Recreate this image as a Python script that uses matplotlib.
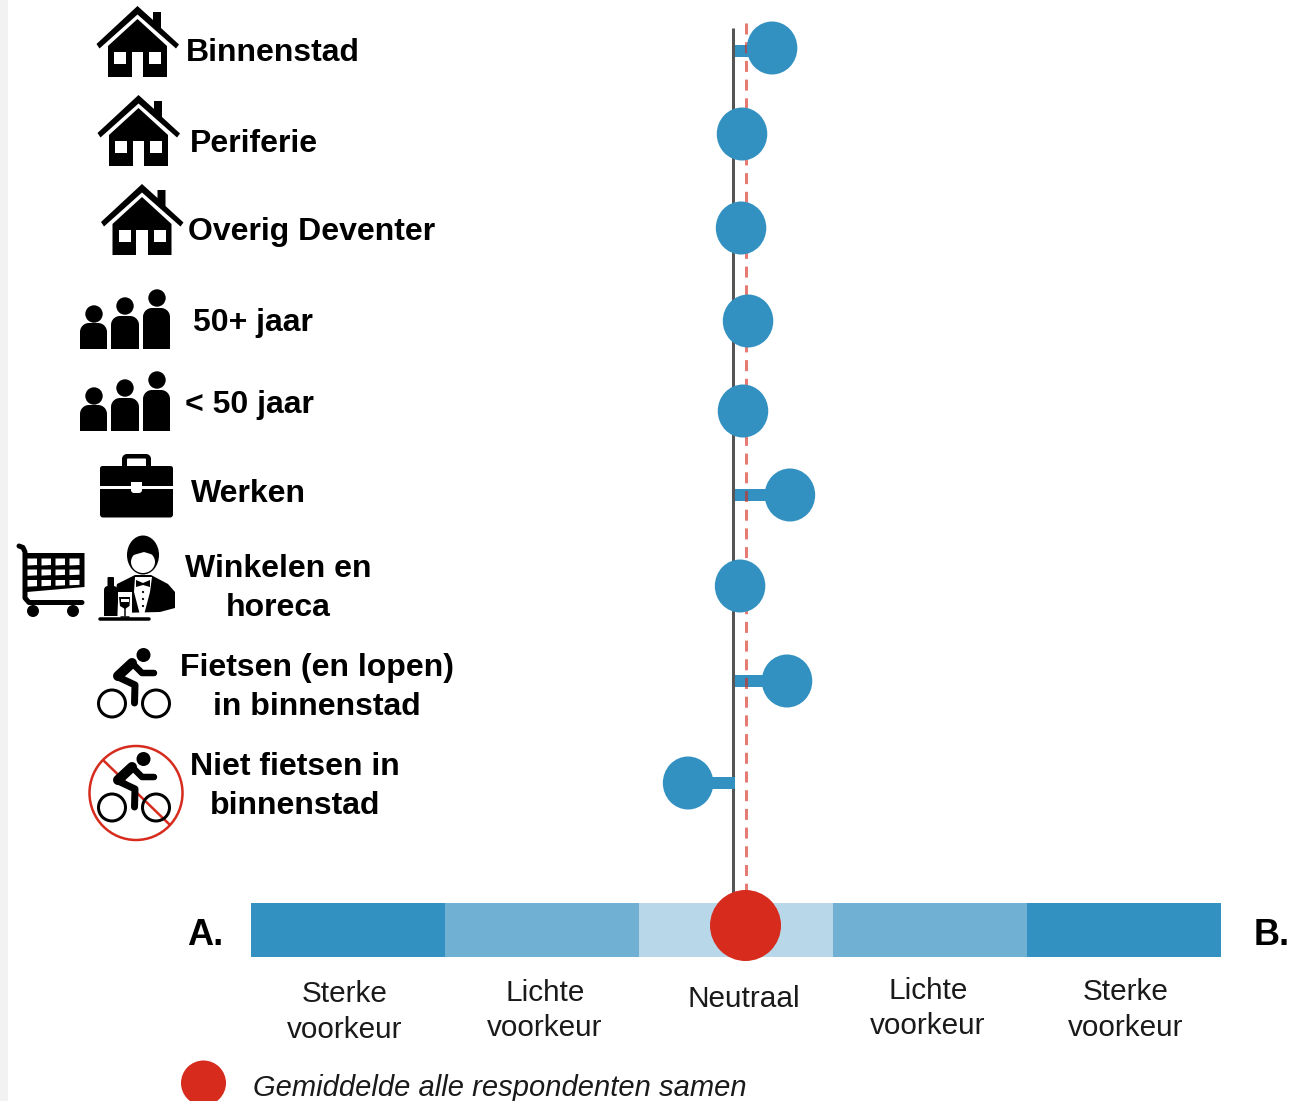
import numpy as np
import matplotlib
matplotlib.use("Agg")
import matplotlib.pyplot as plt
from matplotlib.patches import Ellipse, Circle, Polygon, Rectangle

W, H = 1312, 1101
BLUE, MID, LIGHT, RED = "#3391c1", "#70b1d3", "#b8d8ea", "#d62b1d"

# --- data -----------------------------------------------------------------
groups = ["Binnenstad", "Periferie", "Overig Deventer", "50+ jaar", "< 50 jaar",
          "Werken", "Winkelen en\nhoreca", "Fietsen (en lopen)\nin binnenstad",
          "Niet fietsen in\nbinnenstad"]
# preference score, -2.5 (strong A) ... 2.5 (strong B)
scores = [0.186, 0.031, 0.026, 0.062, 0.036, 0.278, 0.021, 0.263, -0.247]
overall_mean = 0.049
axis_line = -0.015
scale_edges = [-2.5, -1.5, -0.5, 0.5, 1.5, 2.5]
scale_labels = ["Sterke\nvoorkeur", "Lichte\nvoorkeur", "Neutraal", "Lichte\nvoorkeur", "Sterke\nvoorkeur"]
legend_label = "Gemiddelde alle respondenten samen"

# --- layout (pixels) ------------------------------------------------------
row_y = [48, 134, 228, 321, 411, 495, 586, 681, 783]
stem_y = [51, 134, 228, 321, 411, 495, 586, 681, 783]
PX = 194.0           # pixels per score unit
X0 = 736.0           # pixel position of score 0

fig = plt.figure(figsize=(W / 100, H / 100), dpi=100, facecolor="white")
ax = fig.add_axes([0, 0, 1, 1])
ax.set_xlim(-X0 / PX, (W - X0) / PX)
ax.set_ylim(H, 0)
ax.axis("off")
ic = fig.add_axes([0, 0, 1, 1])
ic.set_xlim(0, W)
ic.set_ylim(H, 0)
ic.axis("off")
ic.patch.set_alpha(0)
plt.rcParams["font.family"] = ["Liberation Sans", "DejaVu Sans"]

px = 0.72  # points per pixel

ic.add_patch(Rectangle((0, 0), 8, H, fc="#f2f2f2", ec="none"))

# scale bar
shades = [BLUE, MID, LIGHT, MID, BLUE]
for a, b, c in zip(scale_edges[:-1], scale_edges[1:], shades):
    ax.barh(930, b - a, left=a, height=54, color=c, lw=0, zorder=1)

# reference lines
ax.plot([axis_line, axis_line], [28, 895], color="#555555", lw=3 * px, zorder=2, solid_capstyle="butt")
# stems
for y, s in zip(stem_y, scores):
    ax.barh(y, s - axis_line, left=axis_line + 0.01, height=12, color=BLUE, lw=0, zorder=3)
ax.plot([overall_mean, overall_mean], [23, 895], color=RED, alpha=0.62, lw=3 * px, zorder=4,
        linestyle=(0, (11 / 3, 7.7 / 3)), dash_capstyle="butt")
# points
for y, s in zip(row_y, scores):
    ax.add_patch(Ellipse((s, y), 50.5 / PX, 53, fc=BLUE, ec="none", zorder=5))
ax.add_patch(Ellipse((overall_mean, 925.5), 71 / PX, 71, fc=RED, ec="none", zorder=6))
ax.add_patch(Ellipse((-X0 / PX + 203.5 / PX, 1083), 45 / PX, 45, fc=RED, ec="none", zorder=6))


# --- icons ----------------------------------------------------------------
def rrect(x0, y0, x1, y1, rt=0, rb=0, color="black", z=3):
    pts = []
    for cx, cy, r, a0 in [(x0 + rt, y0 + rt, rt, 180), (x1 - rt, y0 + rt, rt, 270),
                          (x1 - rb, y1 - rb, rb, 0), (x0 + rb, y1 - rb, rb, 90)]:
        t = np.radians(np.linspace(a0, a0 + 90, 12))
        pts += list(zip(cx + r * np.cos(t), cy + r * np.sin(t)))
    ic.add_patch(Polygon(pts, closed=True, fc=color, ec="none", zorder=z))


def poly(pts, color="black", z=3):
    ic.add_patch(Polygon(pts, closed=True, fc=color, ec="none", zorder=z))


def line(xs, ys, w, color="black", z=3, cap="round"):
    ic.plot(xs, ys, color=color, lw=w * px, zorder=z, solid_capstyle=cap, solid_joinstyle="round")


def house(dx, dy):
    def P(l):
        return [(x + dx, y + dy) for x, y in l]
    poly(P([(96.5, 44), (137.5, 6), (153, 20), (153, 12), (161, 12), (161, 28), (179, 44.5), (176, 48.5),
            (137.5, 14.5), (99.5, 48.5)]))
    poly(P([(137.5, 19), (167, 46), (167, 77), (108, 77), (108, 46)]))
    for x0, x1, y0, y1 in [(114, 126, 52, 63.5), (149, 161, 52, 63.5), (131.5, 143, 52, 78)]:
        poly(P([(x0, y0), (x1, y0), (x1, y1), (x0, y1)]), color="white", z=4)


def people(dy):
    for hx, hy, x0, x1, top in [(94, 314, 80, 107, 323), (125, 306, 111, 139, 316), (157, 298, 143, 170, 308)]:
        ic.add_patch(Circle((hx, hy + dy), 8.7, fc="black", ec="none", zorder=3))
        rrect(x0, top + dy, x1, 349 + dy, rt=9)


def briefcase():
    rrect(100, 466, 173, 517.5, rt=2.5, rb=3)
    rrect(122, 454, 151, 470, rt=5)
    rrect(127, 458.5, 146, 466, rt=1, color="white", z=4)
    ic.add_patch(Rectangle((100, 486), 73, 2.5, fc="white", ec="none", zorder=4))
    rrect(131, 482, 142, 493, rb=3, color="white", z=5)


def cart():
    poly([(25, 553), (84.5, 553), (84.5, 587), (27, 592)])
    xs = [(27.5, 37), (41.5, 51), (55.5, 65), (69.5, 79.5)]
    rows = [(558.5, 565), (569.5, 575.5), (580, 586.5)]
    for j, (y0, y1) in enumerate(rows):
        for x0, x1 in xs:
            off = 0.8 * j * (x1 - 27) / 50
            poly([(x0, y0), (x1, y0), (x1, y1 - off), (x0, y1 - off + 0.5)], color="white", z=4)
    line([19, 23, 25, 25, 29, 82], [546, 547.5, 552, 598, 602.5, 602.5], 5)
    for x in (33, 73):
        ic.add_patch(Circle((x, 611), 6, fc="black", ec="none", zorder=3))


def waiter():
    # head and hair
    ic.add_patch(Ellipse((143, 555), 32, 39, fc="black", ec="none", zorder=3))
    ic.add_patch(Ellipse((143, 562), 24, 22, fc="white", ec="none", zorder=4))
    poly([(130, 549), (156, 546), (157, 556), (144, 552), (130, 556)], z=5)
    # jacket
    poly([(116, 590), (117, 584), (135, 575), (151, 575), (168, 584), (175, 592), (175, 608), (160, 612),
          (118, 613)])
    # shirt
    poly([(135, 577), (152, 577), (150, 592), (144, 615), (140, 615), (134, 592)], color="white", z=4)
    poly([(136, 580), (143, 583), (150, 580), (150, 587), (143, 585), (136, 587)], z=5)
    for y in (592, 599, 606):
        ic.add_patch(Circle((143, y), 1.1, fc="black", ec="none", zorder=5))
    # bottle
    rrect(107.5, 577, 114, 592, rt=1)
    rrect(104, 586, 117.5, 616, rt=4)
    # glass
    ic.add_patch(Rectangle((117.5, 592), 14, 26, fc="white", ec="none", zorder=6))
    poly([(119, 597), (130, 597), (129.5, 606), (125, 609), (120, 606)], z=7)
    poly([(120.5, 599), (128.5, 599), (128.5, 602), (120.5, 602)], color="white", z=8)
    line([124.5, 124.5], [608, 616], 1.5, z=7)
    line([120.5, 128.5], [616.5, 616.5], 1.5, z=7)
    # tray
    line([99.5, 149], [618.5, 618.5], 3.5, z=9)


def bike(dy):
    for x in (112, 156):
        ic.add_patch(Circle((x, 703.5 + dy), 13.5, fc="none", ec="black", lw=3 * px, zorder=5))
    ic.add_patch(Circle((143.5, 655 + dy), 7, fc="black", ec="none", zorder=5))
    line([132, 118], [663 + dy, 676 + dy], 10, z=5)
    line([132, 142, 154], [663 + dy, 673 + dy, 673 + dy], 6.5, z=5)
    line([118, 135, 134.5], [677 + dy, 685 + dy, 703 + dy], 7, z=5)


house(0, 0)
house(1, 89)
house(4.5, 178)
people(0)
people(82)
briefcase()
cart()
waiter()
bike(0)
bike(104)
ic.add_patch(Ellipse((136, 793), 93, 94, fc="none", ec=RED, lw=2.5 * px, zorder=4))
line([103, 170], [760, 825], 2.5, color=RED, z=4, cap="butt")

# --- text -----------------------------------------------------------------
BOLD = 23
label_pos = [(186, 61, "left"), (190, 152, "left"), (188, 240, "left"), (193, 331, "left"), (185, 413, "left"),
             (191, 502, "left"), (278, 577, "center"), (317, 676, "center"), (295, 775, "center")]
GAP = 38.7
for g, (x, y, ha) in zip(groups, label_pos):
    for i, t in enumerate(g.split("\n")):
        ic.text(x, y + i * GAP, t, ha=ha, va="baseline", fontsize=BOLD, fontweight="bold", color="black", zorder=8)

scale_pos = [(345, 1002), (545, 1001), (744, 1007), (928, 999), (1126, 1000)]
for t0, (x, y) in zip(scale_labels, scale_pos):
    for i, t in enumerate(t0.split("\n")):
        ic.text(x, y + i * 35.5, t, ha="center", va="baseline", fontsize=21.4, color="#1a1a1a", zorder=8)

ic.text(187, 945, "A.", ha="left", va="baseline", fontsize=26, fontweight="bold", zorder=8)
ic.text(1254, 945, "B.", ha="left", va="baseline", fontsize=26, fontweight="bold", zorder=8)
ic.text(253, 1096, legend_label, ha="left", va="baseline", fontsize=21, style="italic", color="#1a1a1a", zorder=8)

fig.savefig("out.png", dpi=100, facecolor="white")
